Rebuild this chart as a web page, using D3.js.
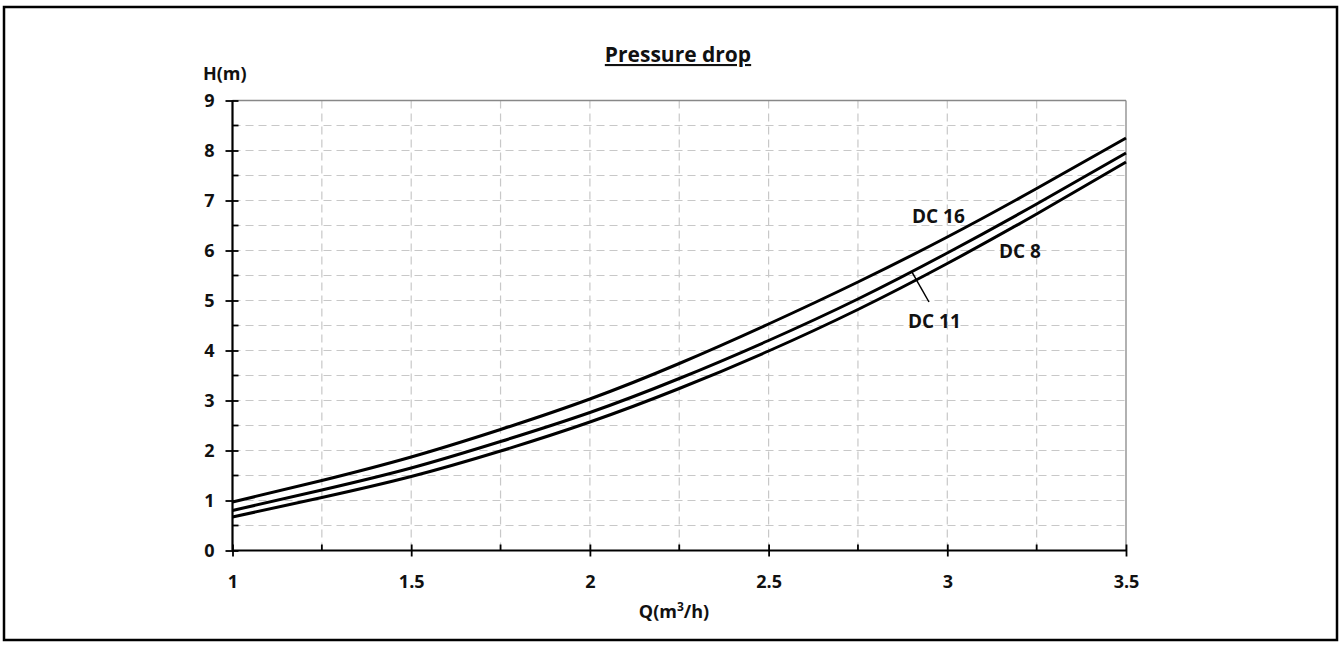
<!DOCTYPE html>
<html><head><meta charset="utf-8">
<script src="https://cdn.jsdelivr.net/npm/d3@7"></script>
<style>
body{margin:0;background:#fff;}
text{font-family:"Open Sans",sans-serif;font-weight:700;fill:#111;}
</style></head>
<body><svg id="c" width="1344" height="648"></svg>
<script>
const qValues = [1, 1.25, 1.5, 1.75, 2, 2.25, 2.5, 2.75, 3, 3.25, 3.5];
const dc16 = [0.97, 1.40, 1.87, 2.42, 3.03, 3.74, 4.53, 5.37, 6.27, 7.24, 8.25];
const dc11 = [0.80, 1.21, 1.65, 2.18, 2.76, 3.44, 4.20, 5.03, 5.95, 6.93, 7.95];
const dc8  = [0.67, 1.06, 1.48, 1.99, 2.57, 3.24, 3.99, 4.82, 5.74, 6.73, 7.77];
const seriesNames = ["DC 16", "DC 11", "DC 8"];
const xTicks = [1, 1.5, 2, 2.5, 3, 3.5];
const xTickLabels = ["1", "1.5", "2", "2.5", "3", "3.5"];
const yTicks = [0,1,2,3,4,5,6,7,8,9];

const svg = d3.select("#c");
svg.append("rect").attr("x",4).attr("y",7).attr("width",1333).attr("height",633)
  .attr("fill","none").attr("stroke","#000").attr("stroke-width",2.5);

const x = d3.scaleLinear().domain([1,3.5]).range([232.5,1126]);
const y = d3.scaleLinear().domain([0,9]).range([550.5,100.5]);

const g = svg.append("g");
const xMinor = d3.range(1.25,3.5,0.25);
const yMinor = d3.range(0.5,9,0.5);
g.selectAll(".vg").data(xMinor).join("line")
  .attr("x1",d=>x(d)).attr("x2",d=>x(d)).attr("y1",y(0)).attr("y2",y(9))
  .attr("stroke","#c8c8c8").attr("stroke-width",1.2).attr("stroke-dasharray","8,5");
g.selectAll(".hg").data(yMinor).join("line")
  .attr("x1",x(1)).attr("x2",x(3.5)).attr("y1",d=>y(d)).attr("y2",d=>y(d))
  .attr("stroke","#c8c8c8").attr("stroke-width",1.2).attr("stroke-dasharray","8,5");
g.append("line").attr("x1",x(1)).attr("x2",x(3.5)).attr("y1",y(9)).attr("y2",y(9)).attr("stroke","#888").attr("stroke-width",1.3);
g.append("line").attr("x1",x(3.5)).attr("x2",x(3.5)).attr("y1",y(9)).attr("y2",y(0)).attr("stroke","#888").attr("stroke-width",1.3);

const data = [dc16, dc11, dc8];
const line = d3.line().x((d,i)=>x(qValues[i])).y(d=>y(d)).curve(d3.curveNatural);
g.selectAll(".curve").data(data).join("path")
  .attr("d",line).attr("fill","none").attr("stroke","#000").attr("stroke-width",3);

const fontTick = 18;
const xAxis = d3.axisBottom(x).tickValues(xTicks).tickFormat((d,i)=>xTickLabels[i]).tickSize(6).tickPadding(19);
const gx = g.append("g").attr("transform",`translate(0,${y(0)})`).call(xAxis);
gx.select(".domain").attr("stroke","#000").attr("stroke-width",2.2).attr("d",`M${x(1)},0H${x(3.5)}`);
gx.selectAll(".tick line").attr("y1",-6).attr("y2",6).attr("stroke","#000").attr("stroke-width",1.8);
gx.selectAll(".tick text").attr("font-size",fontTick).attr("font-family","Open Sans").attr("font-weight",700).attr("fill","#111");
g.selectAll(".xminor").data(xMinor.filter(d=>Math.abs(d*2-Math.round(d*2))>0.01)).join("line")
  .attr("x1",d=>x(d)).attr("x2",d=>x(d)).attr("y1",y(0)-6).attr("y2",y(0)).attr("stroke","#000").attr("stroke-width",1.8);

const yAxis = d3.axisLeft(y).tickValues(yTicks).tickFormat(d3.format("d")).tickSize(7).tickPadding(11);
const gy = g.append("g").attr("transform",`translate(${x(1)},0)`).call(yAxis);
gy.select(".domain").attr("stroke","#000").attr("stroke-width",2.2).attr("d",`M0,${y(9)}V${y(0)}`);
gy.selectAll(".tick line").attr("x1",-7).attr("x2",6).attr("stroke","#000").attr("stroke-width",1.8);
gy.selectAll(".tick text").attr("font-size",fontTick).attr("font-family","Open Sans").attr("font-weight",700).attr("fill","#111");
g.selectAll(".yminor").data(yMinor.filter(d=>Math.abs(d-Math.round(d))>0.01)).join("line")
  .attr("x1",x(1)).attr("x2",x(1)+6).attr("y1",d=>y(d)).attr("y2",d=>y(d)).attr("stroke","#000").attr("stroke-width",1.8);

svg.append("text").attr("x",678).attr("y",62).attr("text-anchor","middle").attr("font-size",21)
  .attr("text-decoration","underline").text("Pressure drop");
svg.append("text").attr("x",203).attr("y",80).attr("font-size",18).text("H(m)");
const xt = svg.append("text").attr("x",674).attr("y",618).attr("text-anchor","middle").attr("font-size",18);
xt.append("tspan").text("Q(m");
xt.append("tspan").attr("dy",-7).attr("font-size",12).text("3");
xt.append("tspan").attr("dy",7).text("/h)");

svg.append("text").attr("x",912).attr("y",223).attr("font-size",19).text(seriesNames[0]);
svg.append("text").attr("x",999).attr("y",258).attr("font-size",19).text(seriesNames[2]);
svg.append("text").attr("x",908).attr("y",328).attr("font-size",19).text(seriesNames[1]);
svg.append("line").attr("x1",x(2.9)).attr("y1",y(dc11[8]-0.1*((dc11[8]-dc11[7])/0.25)))
  .attr("x2",929).attr("y2",302).attr("stroke","#000").attr("stroke-width",1.5);
</script></body></html>
